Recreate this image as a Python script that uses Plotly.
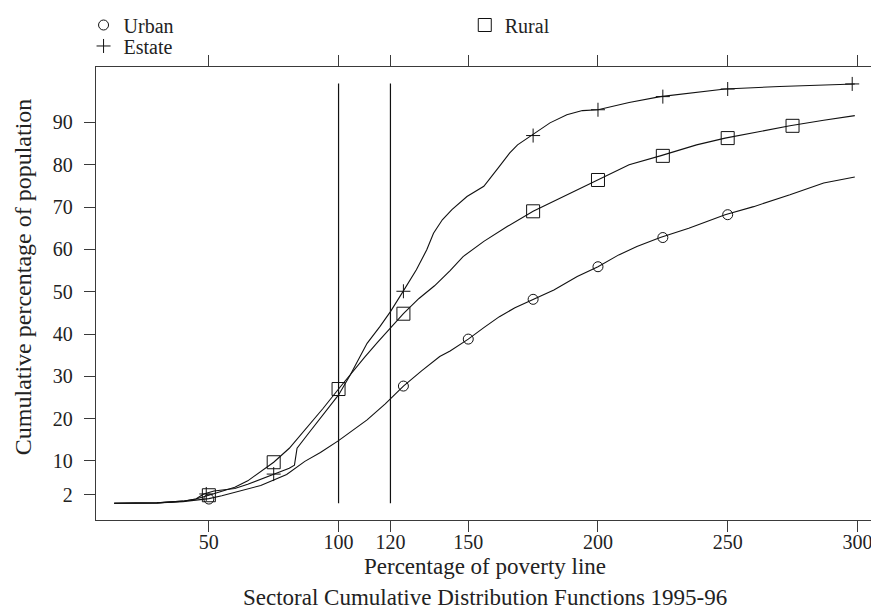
import plotly.graph_objects as go

# ---------------- data ----------------
urban_x = [13.5, 30, 40, 45, 50, 55, 62, 70, 75, 80, 87, 93, 100, 106, 111, 118, 125,
           132, 139, 143, 150, 156, 162, 168, 175, 183, 192, 200, 208, 215, 224, 235,
           249, 260, 274, 287, 299]
urban_y = [0, 0.1, 0.4, 0.7, 1.1, 1.8, 2.9, 4.2, 5.5, 6.8, 9.9, 12.0, 14.8, 17.5, 19.7,
           23.5, 27.7, 31.3, 34.7, 36.0, 38.8, 41.5, 44.1, 46.2, 48.2, 50.4, 53.6, 55.9,
           58.7, 60.7, 62.8, 65.0, 68.2, 70.1, 72.9, 75.7, 77.1]

rural_x = [13.5, 30, 40, 45, 50, 55, 60, 65, 70, 75, 81, 88, 94, 100, 105, 110, 115,
           120, 125, 131, 137, 143, 148, 156, 165, 175, 188, 200, 212, 224, 238, 249,
           262, 274, 287, 299]
rural_y = [0, 0.1, 0.5, 1.0, 1.9, 2.8, 3.8, 5.3, 7.4, 9.7, 13.0, 18.0, 22.4, 27.0, 30.8,
           34.5, 38.0, 41.4, 44.8, 48.4, 51.4, 55.0, 58.3, 61.9, 65.4, 69.0, 72.9, 76.4,
           80.0, 82.1, 84.7, 86.3, 87.9, 89.2, 90.5, 91.6]

estate_x = [13.5, 30, 40, 45, 48, 52, 56, 60, 65, 70, 75, 81, 83, 84, 88, 94, 100,
            104.5, 108.4, 111, 116, 120, 125, 130, 134, 136.6, 140, 143.7, 149.5, 156,
            162, 166, 169, 174.5, 181.5, 188, 194, 200, 212, 224, 238, 249, 270, 299]
estate_y = [0, 0.1, 0.5, 1.0, 2.2, 2.9, 3.2, 3.5, 4.5, 5.7, 6.9, 8.3, 9.0, 13.0, 16.2,
            20.9, 25.6, 30.3, 34.7, 37.8, 41.8, 45.3, 50.2, 55.2, 59.9, 63.8, 67.0, 69.4,
            72.5, 74.9, 79.6, 82.8, 84.7, 86.9, 89.9, 91.8, 92.8, 93.0, 94.7, 96.1, 97.1,
            97.9, 98.5, 99.1]

# marker positions as drawn on the curves
urban_mx = [50, 125, 150, 175, 200, 225, 250]
urban_my = [1.0, 27.7, 38.8, 48.2, 55.9, 62.8, 68.2]
rural_mx = [50, 75, 100, 125, 175, 200, 225, 250, 275]
rural_my = [1.9, 9.7, 27.0, 44.8, 69.0, 76.4, 82.1, 86.3, 89.2]
estate_mx = [49, 75, 125, 175, 200, 225, 250, 298]
estate_my = [2.2, 6.9, 50.1, 86.9, 93.0, 96.1, 97.9, 99.1]

cutoffs = [100, 120]
cutoff_top = 99.2

x_ticks = [50, 100, 120, 150, 200, 250, 300]
y_ticks = [2, 10, 20, 30, 40, 50, 60, 70, 80, 90]

FONT = "Liberation Serif"
INK = "#111111"

fig = go.Figure()

# curves
for xs, ys in [(urban_x, urban_y), (rural_x, rural_y), (estate_x, estate_y)]:
    fig.add_trace(go.Scatter(x=xs, y=ys, mode="lines",
                             line=dict(color=INK, width=1.1),
                             showlegend=False, hoverinfo="skip"))

# vertical reference lines
vx, vy = [], []
for c in cutoffs:
    vx += [c, c, None]
    vy += [0, cutoff_top, None]
fig.add_trace(go.Scatter(x=vx, y=vy, mode="lines",
                         line=dict(color=INK, width=1.2),
                         showlegend=False, hoverinfo="skip"))

# markers (also used for the keys)
fig.add_trace(go.Scatter(x=urban_mx, y=urban_my, mode="markers", name="Urban",
                         marker=dict(symbol="circle-open", size=10,
                                     color=INK, line=dict(width=1, color=INK)),
                         legend="legend"))
fig.add_trace(go.Scatter(x=estate_mx, y=estate_my, mode="markers", name="Estate",
                         marker=dict(symbol="cross-thin-open", size=10,
                                     color=INK, line=dict(width=1, color=INK)),
                         legend="legend2"))
fig.add_trace(go.Scatter(x=rural_mx, y=rural_my, mode="markers", name="Rural",
                         marker=dict(symbol="square-open", size=13,
                                     color=INK, line=dict(width=1, color=INK)),
                         legend="legend3"))

axis_common = dict(showline=True, linecolor="#3a3a3a", linewidth=1.4, mirror="ticks",
                   ticks="outside", ticklen=11, tickwidth=1.3, tickcolor="#3a3a3a",
                   showgrid=False, zeroline=False, automargin=False,
                   tickfont=dict(family=FONT, size=20, color="#222"))

leg_common = dict(font=dict(family=FONT, size=20, color="#222"), bgcolor="rgba(0,0,0,0)",
                  xanchor="left", yanchor="middle", itemsizing="trace")

# page body adds an 8px offset, so the figure is laid out 8px smaller
fig.update_layout(
    width=871, height=602, autosize=False,
    margin=dict(l=88, r=5, t=59, b=90, autoexpand=False),
    paper_bgcolor="white", plot_bgcolor="white",
    font=dict(family=FONT, color="#222"),
    xaxis=dict(range=[6.5, 306.4], tickvals=x_ticks, ticklabelstandoff=-7,
               title=dict(text="Percentage of poverty line", standoff=5,
                          font=dict(family=FONT, size=23, color="#222")),
               **axis_common),
    yaxis=dict(range=[-3.95, 103.1], tickvals=y_ticks, ticklabelstandoff=7,
               **axis_common),
    legend=dict(x=-0.016, y=1.0927, **leg_common),
    legend2=dict(x=-0.016, y=1.0464, **leg_common),
    legend3=dict(x=0.474, y=1.0927, **leg_common),
    annotations=[
        dict(text="Cumulative percentage of population", textangle=-90,
             xref="paper", yref="paper", x=-0.0938, y=0.536,
             xanchor="center", yanchor="middle", showarrow=False,
             font=dict(family=FONT, size=24, color="#222")),
        dict(text="Sectoral Cumulative Distribution Functions 1995-96",
             xref="paper", yref="paper", x=0.5, y=-0.17,
             xanchor="center", yanchor="middle", showarrow=False,
             font=dict(family=FONT, size=23, color="#222")),
    ],
)

fig.write_html("out.html")
